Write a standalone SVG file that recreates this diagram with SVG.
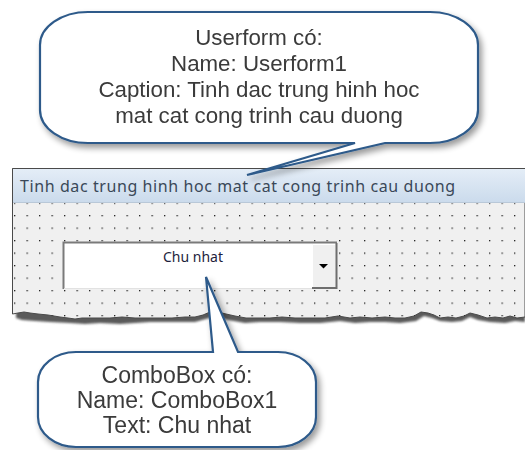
<svg xmlns="http://www.w3.org/2000/svg" width="525" height="450" viewBox="0 0 525 450">
<defs>
  <style>
    .ct{font-family:"Liberation Sans",Arial,sans-serif;font-size:23px;fill:#3a3a3a;text-anchor:middle}
    .ct.top{font-size:22.3px}
    .callout{fill:#ffffff;stroke:#2d5a8a;stroke-width:2.2;stroke-linejoin:miter}
    .title{font-family:"Noto Sans","Open Sans",sans-serif;font-size:16px;fill:#3a4858}
    .combo{font-family:"Noto Sans","Open Sans",sans-serif;font-size:14px;fill:#1e1e3c;text-anchor:middle}
  </style>
  <linearGradient id="tb" x1="0" y1="0" x2="0" y2="1">
    <stop offset="0" stop-color="#e4edf7"/>
    <stop offset="1" stop-color="#cbdbec"/>
  </linearGradient>
  <pattern id="dots" patternUnits="userSpaceOnUse" x="14" y="202.5" width="12.5" height="12.5">
    <rect x="0" y="0" width="1.3" height="1.3" fill="#222"/>
  </pattern>
  <filter id="sh" x="-10%" y="-10%" width="130%" height="140%">
    <feGaussianBlur in="SourceAlpha" stdDeviation="3"/>
    <feOffset dx="3" dy="4" result="b"/>
    <feComponentTransfer><feFuncA type="linear" slope="0.4"/></feComponentTransfer>
    <feMerge><feMergeNode/><feMergeNode in="SourceGraphic"/></feMerge>
  </filter>
  <filter id="blur1"><feGaussianBlur stdDeviation="1"/></filter>
</defs>
<rect width="525" height="450" fill="#ffffff"/>

<g id="userform">
  <path d="M16,206 H525 V322 L515,321 L505,323 L490,322 L478,320 L470,317 L462,321 L452,322 L440,321 L432,318 L424,316 L416,321 L400,323 L385,322 L370,322 L355,323 L340,321 L320,323 L300,323 L280,322 L260,322 L245,323 L228,320 L215,316 L206,319 L195,322 L180,322 L165,322 L150,322 L135,323 L120,324 L100,323 L85,324 L70,323 L50,322 L35,321 L22,320 L16,318 Z" fill="#5a5a5a" filter="url(#blur1)"/>
  <path d="M12.5,168.5 H525 V317 L517,318 L510,316 L503,318 L495,317 L487,318 L478,315 L470,313 L464,316 L456,318 L448,317 L440,318 L434,315 L428,313 L421,312 L414,316 L405,318 L395,318 L385,317 L372,318 L360,317 L350,318 L338,316 L325,318 L310,318 L295,318 L282,317 L270,318 L258,318 L246,318 L235,316 L226,314 L218,312 L210,312 L203,315 L195,317 L185,317 L172,318 L160,318 L148,318 L135,318 L122,317 L110,318 L95,318 L82,318 L75,319 L68,318 L60,317 L48,315 L38,314 L30,313 L24,312 L18,313 L12.5,314 Z" fill="#f0f0f0" stroke="#4a4a4a" stroke-width="1"/>
  <path d="M13,203 H525 V317 L517,318 L510,316 L503,318 L495,317 L487,318 L478,315 L470,313 L464,316 L456,318 L448,317 L440,318 L434,315 L428,313 L421,312 L414,316 L405,318 L395,318 L385,317 L372,318 L360,317 L350,318 L338,316 L325,318 L310,318 L295,318 L282,317 L270,318 L258,318 L246,318 L235,316 L226,314 L218,312 L210,312 L203,315 L195,317 L185,317 L172,318 L160,318 L148,318 L135,318 L122,317 L110,318 L95,318 L82,318 L75,319 L68,318 L60,317 L48,315 L38,314 L30,313 L24,312 L18,313 L13,314 Z" fill="url(#dots)"/>
  <rect x="13" y="169" width="512" height="33" fill="url(#tb)"/>
  <line x1="13" y1="202.5" x2="525" y2="202.5" stroke="#b9c8d8" stroke-width="1"/>
  <line x1="12.5" y1="168.5" x2="525" y2="168.5" stroke="#4a4a4a" stroke-width="1"/>
  <text class="title" x="20" y="192" textLength="435" lengthAdjust="spacing">Tinh dac trung hinh hoc mat cat cong trinh cau duong</text>
</g>

<g id="combobox1">
  <rect x="63" y="242" width="274" height="47" fill="#ffffff"/>
  <path d="M63.5,289 V242.5 H337" fill="none" stroke="#7a7a7a" stroke-width="2"/>
  <line x1="64" y1="288.5" x2="312" y2="288.5" stroke="#e2e2e2" stroke-width="1"/>
  <rect x="312" y="244" width="24" height="44" fill="#f0f0f0"/>
  <path d="M312.5,287 V244.5 H335" fill="none" stroke="#ffffff" stroke-width="1"/>
  <path d="M312,288 H336.5 V243" fill="none" stroke="#6e6e6e" stroke-width="2"/>
  <path d="M319,264 H328 L323.5,268.5 Z" fill="#000"/>
  <text class="combo" x="193" y="262">Chu nhat</text>
</g>

<g id="callout-userform" filter="url(#sh)">
  <path class="callout" d="M88,12 H430 A48,33 0 0 1 478,45 V110 A48,33 0 0 1 430,143 H385 L247,175 L355,143 H88 A48,33 0 0 1 40,110 V45 A48,33 0 0 1 88,12 Z"/>
  <text class="ct top" x="259" y="45">Userform có:</text>
  <text class="ct top" x="259" y="71">Name: Userform1</text>
  <text class="ct top" x="259" y="97">Caption: Tinh dac trung hinh hoc</text>
  <text class="ct top" x="259" y="123">mat cat cong trinh cau duong</text>
</g>

<g id="callout-combobox" filter="url(#sh)">
  <path class="callout" d="M76,352 H213 L206,277 L238,352 H278 A38,30 0 0 1 316,382 V417 A38,30 0 0 1 278,447 H76 A38,30 0 0 1 38,417 V382 A38,30 0 0 1 76,352 Z"/>
  <text class="ct" x="177" y="383">ComboBox có:</text>
  <text class="ct" x="177" y="408">Name: ComboBox1</text>
  <text class="ct" x="177" y="433">Text: Chu nhat</text>
</g>

<g id="connectors"/>
</svg>
